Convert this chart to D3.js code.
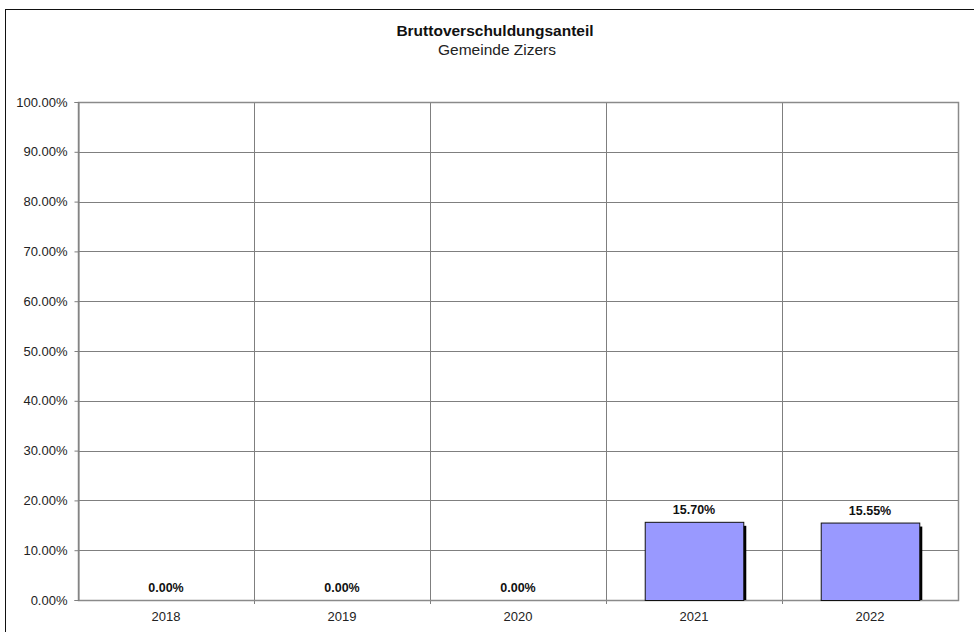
<!DOCTYPE html>
<html>
<head>
<meta charset="utf-8">
<script src="https://cdn.jsdelivr.net/npm/d3@7"></script>
<style>
  html, body { margin: 0; padding: 0; background: #fff; }
  svg { display: block; font-family: "Liberation Sans", Arial, sans-serif; }
</style>
</head>
<body>
<svg id="chart" width="974" height="632"></svg>
<script>
// Gross debt ratio per year
const years = ["2018", "2019", "2020", "2021", "2022"];
const shares = [0.0, 0.0, 0.0, 15.70, 15.55];
const yTicks = [0, 10, 20, 30, 40, 50, 60, 70, 80, 90, 100];
const title = "Bruttoverschuldungsanteil";
const subtitle = "Gemeinde Zizers";

const svg = d3.select("#chart");
const W = 974, H = 632;
const margin = { left: 78, right: 16, top: 102, bottom: 32 };
const plotW = W - margin.left - margin.right;
const plotH = H - margin.top - margin.bottom;
const FONT = "'Liberation Sans', Arial, sans-serif";

// outer frame
svg.append("rect")
  .attr("x", 5.5).attr("y", 9.5)
  .attr("width", W + 10).attr("height", H + 10)
  .attr("fill", "none").attr("stroke", "#111").attr("stroke-width", 1);

// titles
svg.append("text").attr("x", 495).attr("y", 36)
  .attr("text-anchor", "middle").attr("font-size", 15.5).attr("font-weight", "bold")
  .attr("fill", "#111").text(title);
svg.append("text").attr("x", 497).attr("y", 55)
  .attr("text-anchor", "middle").attr("font-size", 15.5)
  .attr("fill", "#222").text(subtitle);

const g = svg.append("g").attr("transform", `translate(${margin.left},${margin.top})`);

const x = d3.scaleBand().domain(years).range([0, plotW]).paddingInner(0.44).paddingOuter(0.22);
const xCat = d3.scaleBand().domain(years).range([0, plotW]);
const y = d3.scaleLinear().domain([0, 100]).range([plotH, 0]);

// horizontal gridlines
g.append("g").selectAll("line").data(yTicks).join("line")
  .attr("x1", 0).attr("x2", plotW)
  .attr("y1", d => Math.round(y(d)) + 0.5).attr("y2", d => Math.round(y(d)) + 0.5)
  .attr("stroke", "#7f7f7f").attr("stroke-width", 1);

// vertical category separators
g.append("g").selectAll("line").data(years.slice(1)).join("line")
  .attr("x1", d => Math.round(xCat(d)) + 0.5).attr("x2", d => Math.round(xCat(d)) + 0.5)
  .attr("y1", 0).attr("y2", plotH + 4)
  .attr("stroke", "#7f7f7f").attr("stroke-width", 1);

// plot frame
g.append("rect").attr("x", 0.5).attr("y", 0.5)
  .attr("width", plotW).attr("height", plotH)
  .attr("fill", "none").attr("stroke", "#8a8a8a").attr("stroke-width", 1.5);

// y axis
const yAxis = g.append("g").attr("transform", "translate(0.5,0)")
  .call(d3.axisLeft(y).tickValues(yTicks).tickSize(4).tickPadding(7)
    .tickFormat(d => d3.format(".2f")(d) + "%"));
yAxis.select(".domain").attr("stroke", "#7f7f7f");
yAxis.selectAll(".tick line").attr("stroke", "#7f7f7f");
yAxis.selectAll("text").attr("font-size", 13).attr("fill", "#222")
  .attr("font-family", FONT);

// x axis labels
const xAxis = g.append("g").attr("transform", `translate(0,${plotH + 0.5})`)
  .call(d3.axisBottom(xCat).tickSize(0).tickPadding(11));
xAxis.select(".domain").remove();
xAxis.selectAll("text").attr("font-size", 13).attr("fill", "#222")
  .attr("font-family", FONT);

const rows = years.map((c, i) => ({ c, v: shares[i] }));

// bar shadows
const bars = g.append("g");
bars.selectAll("rect.shadow").data(rows.filter(d => d.v > 0))
  .join("rect").attr("class", "shadow")
  .attr("x", d => x(d.c) + 3).attr("y", d => y(d.v) + 4)
  .attr("width", x.bandwidth()).attr("height", d => plotH - y(d.v) - 4)
  .attr("fill", "#000");

// bars
bars.selectAll("rect.bar").data(rows.filter(d => d.v > 0))
  .join("rect").attr("class", "bar")
  .attr("x", d => x(d.c) + 0.5).attr("y", d => y(d.v) + 0.5)
  .attr("width", x.bandwidth()).attr("height", d => plotH - y(d.v))
  .attr("fill", "#9999ff").attr("stroke", "#111").attr("stroke-width", 1);

// value labels
g.append("g").selectAll("text").data(rows)
  .join("text")
  .attr("x", d => xCat(d.c) + xCat.bandwidth() / 2)
  .attr("y", d => y(d.v) - 8)
  .attr("text-anchor", "middle").attr("font-size", 12.5).attr("font-weight", "bold")
  .attr("font-family", FONT)
  .attr("fill", "#111")
  .text(d => d3.format(".2f")(d.v) + "%");
</script>
</body>
</html>
